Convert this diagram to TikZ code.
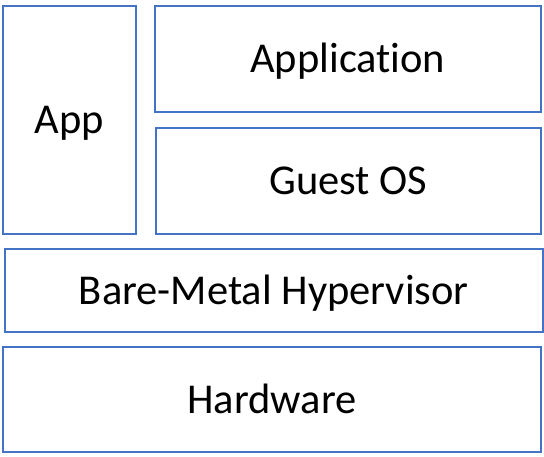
\documentclass[tikz,border=0pt]{standalone}
\usepackage{fontspec}
\setmainfont{Carlito}[Ligatures=NoCommon]
\definecolor{layerblue}{HTML}{4472C4}
\begin{document}
\begin{tikzpicture}[
    x=1pt, y=-1pt,
    layer/.style={draw=layerblue, line width=1.7pt, anchor=north west,
      inner sep=0pt, text height=27.4pt, text depth=0pt,
      font=\fontsize{42.5}{50}\selectfont},
  ]
    \useasboundingbox (0,0) rectangle (544,456);
    \node[layer, minimum width=133pt, minimum height=228pt]
      (app) at (2,5) {App};
    \node[layer, minimum width=386pt, minimum height=106pt]
      (application) at (154,5) {Application};
    \node[layer, minimum width=385pt, minimum height=106pt]
      (guestos) at (155,127) {Guest OS};
    \node[layer, minimum width=538pt, minimum height=83pt]
      (hypervisor) at (4,248) {Bare-Metal Hypervisor};
    \node[layer, minimum width=538pt, minimum height=105pt]
      (hardware) at (2,346) {Hardware};
  \end{tikzpicture}
\end{document}
